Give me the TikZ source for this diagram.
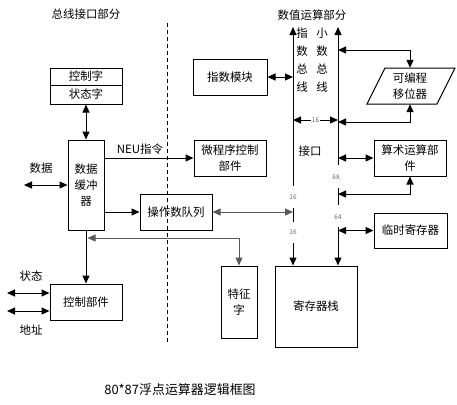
\documentclass[tikz,border=0pt]{standalone}
\usepackage{fontspec}
\setmainfont{Noto Sans CJK SC}
\usetikzlibrary{arrows.meta,calc,positioning}

\tikzset{
  blk/.style={draw, line width=1bp, inner sep=0pt, align=center,
    minimum width=72bp, minimum height=36bp},
  lbl/.style={inner sep=0pt, align=center},
  num/.style={inner sep=1bp, font=\fontsize{6.5}{7}\selectfont, text=black!60},
  ln/.style={line width=1bp},
  gln/.style={line width=1bp, draw=black!65},
}

\begin{document}
\begin{tikzpicture}[x=1bp, y=-1bp, >={Triangle[length=8bp,width=7bp]},
  font=\fontsize{11.5}{16}\selectfont]
  \useasboundingbox (0,0) rectangle (457,404);

  % Titles
  \node[lbl] (tbiu) at (86,14) {总线接口部分};
  \node[lbl] (tneu) at (312,15) {数值运算部分};
  \draw[ln, dash pattern=on 4bp off 3bp] (167,23) -- (167,345);

  % Bus interface part
  \node[blk, minimum height=17bp] (ctlw) at (86,76.5) {控制字};
  \node[blk, minimum height=19bp] (stsw) at (86,94.5) {状态字};
  \node[blk, minimum width=36bp, minimum height=90bp] (buf) at (86,185) {数据\\缓冲\\器};
  \node[blk] (ctrl) at (86,302) {控制部件};
  \node[blk] (opq) at (176,212) {操作数队列};
  \node[lbl] (ldata) at (41,168) {数据};
  \node[lbl] (lsts) at (31,276) {状态};
  \node[lbl] (laddr) at (31,330) {地址};
  \node[lbl] (lneu) at (140,149) {NEU指令};
  \coordinate (dIn) at (24,185);
  \coordinate (sIn) at (7,293);
  \coordinate (aIn) at (7,311);
  \coordinate (fk) at (239,238);

  % Numeric part
  \node[blk, minimum width=74bp] (expm) at (230,77) {指数模块};
  \node[blk] (micro) at (230,158) {微程序控制\\部件};
  \node[blk] (arith) at (410,158) {算术运算部\\件};
  \node[blk, minimum width=73bp, minimum height=35bp] (tmpr) at (410.5,230.5) {临时寄存器};
  \node[blk, minimum width=82bp, minimum height=81bp] (stack) at (316,306.5) {寄存器栈};
  \node[blk, minimum width=36bp, minimum height=72bp] (feat) at (239,302) {特征\\字};
  \node[lbl, minimum height=36bp] (shft) at (410,86) {可编程\\移位器};
  \draw[ln] (367,104) -- (385,68) -- (455,68) -- (437,104) -- cycle;

  % Buses
  \coordinate (eTop) at (293,27);
  \coordinate (eBot) at (293,186);
  \coordinate (eMidT) at (293,208);
  \coordinate (eMidB) at (293,222);
  \coordinate (eLow) at (293,243);
  \coordinate (mTop) at (338,27);
  \coordinate (mBot) at (338,165);
  \coordinate (mMidT) at (338,188);
  \coordinate (mMidB) at (338,205);
  \coordinate (mLow) at (338,227);
  \draw[ln,->] (eBot) -- (eTop);
  \draw[ln] (eMidT) -- (eMidB);
  \draw[ln,->] (eLow) -- (eLow |- stack.north);
  \draw[ln,->] (mBot) -- (mTop);
  \draw[ln] (mMidT) -- (mMidB);
  \draw[ln,->] (mLow) -- (mLow |- stack.north);
  \node[lbl, font=\fontsize{11.5}{18}\selectfont] (ebl) at (302,60) {指\\数\\总\\线};
  \node[lbl, font=\fontsize{11.5}{18}\selectfont] (mbl) at (322,60) {小\\数\\总\\线};
  \node[lbl] (lif) at (310,151) {接口};
  \node[num] (n16a) at (293,197) {16};
  \node[num] (n16b) at (293,232) {16};
  \node[num] (n68) at (336,177) {68};
  \node[num] (n64) at (338,217) {64};

  % Connectors, bus interface
  \draw[ln,<->] (stsw.south) -- (buf.north);
  \draw[ln,<->] (dIn) -- (buf.west);
  \draw[ln,->] (buf.east |- micro.west) -- (micro.west);
  \draw[ln,->] (buf.east |- opq.west) -- (opq.west);
  \draw[ln,->] (buf.south) -- (ctrl.north);
  \draw[ln,<->] (sIn) -- (ctrl.west |- sIn);
  \draw[ln,<->] (aIn) -- (ctrl.west |- aIn);
  \draw[gln,<->] (opq.east) -- (eMidT |- opq.east);
  \draw[gln,<->, shorten <=1.5bp] (buf.south |- fk) -- (fk) -- (feat.north);

  % Connectors, numeric part
  \coordinate (shA) at (410,50);
  \coordinate (shB) at (410,122);
  \coordinate (arB) at (410,194);
  \coordinate (i16) at (315,120);
  \draw[ln,<->] (expm.east) -- (eTop |- expm.east);
  \draw[ln,<->] (mTop |- shA) -- (shA) -- (shft.north);
  \draw[ln,<->] (shft.south) -- (shB) -- (mTop |- shB);
  \draw[ln,<->] (eTop |- i16) -- (mTop |- i16) node[num, midway, fill=white] (n16c) {16};
  \draw[ln,<->] (mTop |- arith.west) -- (arith.west);
  \draw[ln,<->] (arith.south) -- (arB) -- (mTop |- arB);
  \draw[ln,<->] (mTop |- tmpr.west) -- (tmpr.west);

  % Caption
  \node[lbl, font=\fontsize{13}{15}\selectfont] (cap) at (180,390) {80*87浮点运算器逻辑框图};
\end{tikzpicture}
\end{document}
